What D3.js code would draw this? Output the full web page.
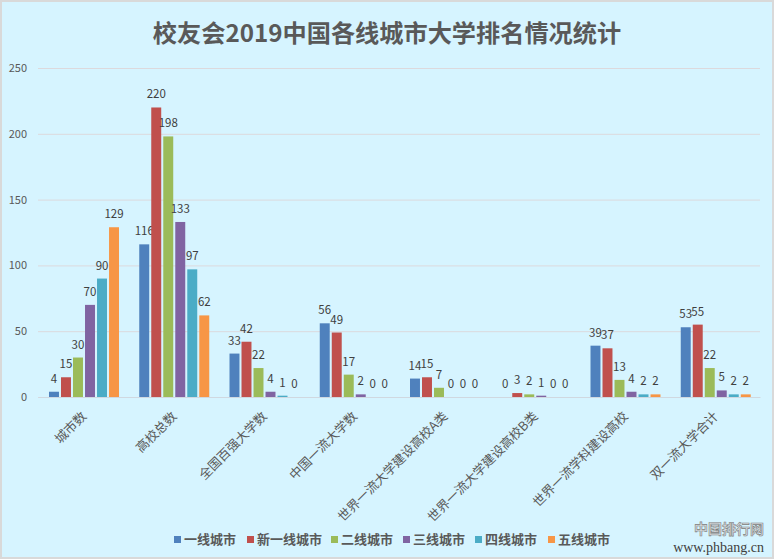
<!DOCTYPE html>
<html>
<head>
<meta charset="utf-8">
<script src="https://cdn.jsdelivr.net/npm/d3@7"></script>
<style>
html, body { margin: 0; padding: 0; background: #d6f4ff; }
svg { display: block; }
text { font-family: "Noto Sans CJK SC", "Noto Sans", sans-serif; }
</style>
</head>
<body>
<svg id="bar_chart" width="774" height="559"></svg>
<script>
var categories = ["城市数", "高校总数", "全国百强大学数", "中国一流大学数", "世界一流大学建设高校A类", "世界一流大学建设高校B类", "世界一流学科建设高校", "双一流大学合计"];
var series_names = ["一线城市", "新一线城市", "二线城市", "三线城市", "四线城市", "五线城市"];
var series_colors = ["#4f81bd", "#c0504d", "#9bbb59", "#8064a2", "#4bacc6", "#f79646"];

var tier1 = [4, 116, 33, 56, 14, 0, 39, 53];
var new_tier1 = [15, 220, 42, 49, 15, 3, 37, 55];
var tier2 = [30, 198, 22, 17, 7, 2, 13, 22];
var tier3 = [70, 133, 4, 2, 0, 1, 4, 5];
var tier4 = [90, 97, 1, 0, 0, 0, 2, 2];
var tier5 = [129, 62, 0, 0, 0, 0, 2, 2];
var all_series = [tier1, new_tier1, tier2, tier3, tier4, tier5];

var y_ticks = [0, 50, 100, 150, 200, 250];

var svg = d3.select("#bar_chart");
var margin = {top: 68, right: 14, bottom: 162, left: 38},
    width = 774 - margin.left - margin.right,
    height = 559 - margin.top - margin.bottom;

// outer frame
svg.append("rect")
    .attr("x", 1).attr("y", 1)
    .attr("width", 772).attr("height", 557)
    .attr("fill", "#d6f4ff")
    .attr("stroke", "#d9d9d9")
    .attr("stroke-width", 2);

svg.append("text")
    .attr("x", 387).attr("y", 42)
    .attr("text-anchor", "middle")
    .style("font-size", "24.2px")
    .style("font-weight", "700")
    .style("fill", "#595959")
    .text("校友会2019中国各线城市大学排名情况统计");

var g = svg.append("g")
    .attr("transform", "translate(" + margin.left + "," + margin.top + ")");

var x = d3.scaleBand().domain(categories).range([0, width]);
var x1 = d3.scaleBand().domain(d3.range(series_names.length))
    .range([11, x.bandwidth() - 9.25])
    .paddingInner(0.17);
var y = d3.scaleLinear().domain([0, 250]).range([height, 0]);

// y axis with gridlines
var y_axis = g.append("g")
    .call(d3.axisLeft(y).tickValues(y_ticks).tickSize(-width).tickPadding(11));
y_axis.select(".domain").remove();
y_axis.selectAll("line").attr("stroke", "#dcd9dd").attr("stroke-width", 1);
y_axis.selectAll("text")
    .style("font-size", "11px")
    .style("fill", "#595959");

// x axis
var x_axis = g.append("g")
    .attr("transform", "translate(0," + height + ")")
    .call(d3.axisBottom(x).tickSize(0));
x_axis.select(".domain").attr("stroke", "#d0d8e0").attr("stroke-width", 1);
x_axis.selectAll("text")
    .attr("transform", "translate(1,17)rotate(-45)")
    .attr("dy", "0.35em")
    .attr("x", 0).attr("y", 0)
    .style("text-anchor", "end")
    .style("font-size", "12.8px")
    .style("fill", "#595959");

// bars + labels
all_series.forEach(function(values, s) {
    var bar_group = g.append("g");
    bar_group.selectAll("rect")
        .data(values)
        .enter().append("rect")
        .attr("x", function(d, i) { return x(categories[i]) + x1(s); })
        .attr("y", function(d) { return y(d); })
        .attr("width", x1.bandwidth())
        .attr("height", function(d) { return height - y(d); })
        .attr("fill", series_colors[s]);
    bar_group.selectAll("text")
        .data(values)
        .enter().append("text")
        .attr("x", function(d, i) { return x(categories[i]) + x1(s) + x1.bandwidth() / 2; })
        .attr("y", function(d) { return y(d) - 9; })
        .attr("text-anchor", "middle")
        .style("font-size", "11.5px")
        .style("fill", "#404040")
        .text(function(d) { return d; });
});

// legend
var legend_x = [174, 247, 331, 403, 475, 548];
var legend = svg.append("g");
series_names.forEach(function(name, s) {
    legend.append("rect")
        .attr("x", legend_x[s]).attr("y", 536)
        .attr("width", 7).attr("height", 7)
        .attr("fill", series_colors[s]);
    legend.append("text")
        .attr("x", legend_x[s] + 10).attr("y", 544)
        .style("font-size", "13px")
        .style("font-weight", "700")
        .style("fill", "#595959")
        .text(name);
});

// watermark
svg.append("text")
    .attr("x", 764).attr("y", 534)
    .attr("text-anchor", "end")
    .style("font-size", "14px")
    .style("font-weight", "700")
    .style("fill", "#d8dde0")
    .style("stroke", "#808080")
    .style("stroke-width", "0.6px")
    .text("中国排行网");
svg.append("text")
    .attr("x", 764).attr("y", 552)
    .attr("text-anchor", "end")
    .style("font-family", "'Liberation Serif', serif")
    .style("font-size", "14px")
    .style("fill", "#404040")
    .text("www.phbang.cn");
</script>
</body>
</html>
